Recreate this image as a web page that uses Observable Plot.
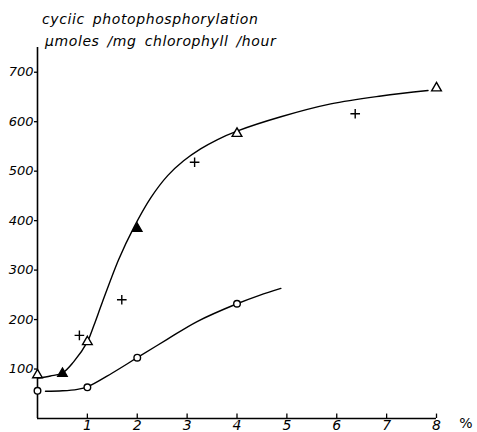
<!DOCTYPE html>
<html><head><meta charset="utf-8">
<script src="https://cdn.jsdelivr.net/npm/d3@7"></script>
<script src="https://cdn.jsdelivr.net/npm/@observablehq/plot@0.6"></script>
<style>body{margin:0;background:#fff} svg{display:block}</style>
</head><body><div id="chart"></div>
<script>
// Tick labels
const xTicks = [1, 2, 3, 4, 5, 6, 7, 8];
const yTicks = [100, 200, 300, 400, 500, 600, 700];

// Title lines
const titleLines = ["cyciic photophosphorylation", "μmoles /mg chlorophyll /hour"];
const unitLabel = "%";

// Hand-drawn curves
const upperCurveX = [0.02, 0.26, 0.5, 0.72, 1, 1.13, 1.3, 1.63, 1.93, 2.27, 2.61, 2.93, 3.27, 3.61, 4, 4.88, 5.88, 6.89, 7.83];
const upperCurveY = [82, 86, 92, 114, 155, 188, 235, 322, 386, 446, 491, 521, 545, 564, 581, 610, 636, 652, 663];
const lowerCurveX = [0.16, 0.5, 0.8, 1, 1.5, 2, 2.6, 3.2, 4, 4.45, 4.88];
const lowerCurveY = [55, 56, 59, 64, 92, 123, 160, 196, 232, 249, 263];

// Measured points
const openTriX = [0, 1, 4, 8];
const openTriY = [88, 155, 576, 668];
const filledTriX = [0.5, 2];
const filledTriY = [91, 384];
const plusX = [0.84, 1.69, 3.15, 6.37];
const plusY = [168, 240, 518, 616];
const circleX = [0, 1, 2, 4];
const circleY = [56, 63, 123, 232];

const zip = (xs, ys) => xs.map((x, i) => ({x, y: ys[i]}));

const chart = Plot.plot({
  width: 477, height: 432,
  marginLeft: 37, marginRight: 41, marginTop: 47, marginBottom: 14,
  style: {fontFamily: "DejaVu Sans", fontStyle: "italic", fontSize: "13px", background: "white", color: "black", overflow: "visible"},
  x: {domain: [0, 8], label: null},
  y: {domain: [0, 750], label: null},
  marks: [
    Plot.ruleY([0], {stroke: "black", strokeWidth: 1.6}),
    Plot.ruleX([0], {stroke: "black", strokeWidth: 1.6}),
    Plot.ruleX(xTicks, {x: d => d, y1: 0, y2: 9, stroke: "black", strokeWidth: 1.3}),
    Plot.axisX({ticks: xTicks, tickSize: 0, tickPadding: 2, fontSize: 14, fontStyle: "italic", label: null}),
    Plot.axisY({ticks: yTicks, tickSize: 3, tickPadding: 1, fontSize: 13, fontStyle: "italic", strokeWidth: 1.3, label: null}),
    Plot.line(zip(upperCurveX, upperCurveY), {x: "x", y: "y", curve: "catmull-rom", stroke: "black", strokeWidth: 1.4}),
    Plot.line(zip(lowerCurveX, lowerCurveY), {x: "x", y: "y", curve: "catmull-rom", stroke: "black", strokeWidth: 1.4}),
    Plot.dot(zip(openTriX, openTriY), {x: "x", y: "y", symbol: "triangle", r: 3.6, fill: "white", stroke: "black", strokeWidth: 1.4}),
    Plot.dot(zip(filledTriX, filledTriY), {x: "x", y: "y", symbol: "triangle", r: 3.6, fill: "black", stroke: "black", strokeWidth: 1.2}),
    Plot.dot(zip(plusX, plusY), {x: "x", y: "y", symbol: "plus", r: 3.2, stroke: "black", strokeWidth: 1.4}),
    Plot.dot(zip(circleX, circleY), {x: "x", y: "y", symbol: "circle", r: 3.3, fill: "white", stroke: "black", strokeWidth: 1.4})
  ]
});
document.getElementById("chart").appendChild(chart);
const svg = d3.select(chart);
const titlePos = [[42, 24], [45, 46]];
titleLines.forEach((t, i) => {
  svg.append("text").attr("x", titlePos[i][0]).attr("y", titlePos[i][1]).attr("text-anchor", "start")
    .attr("font-family", "DejaVu Sans").attr("font-style", "italic").attr("font-size", 14)
    .attr("fill", "black").style("letter-spacing", "0.6px").style("word-spacing", "3px").text(t);
});
svg.append("text").attr("x", 466).attr("y", 428).attr("text-anchor", "middle")
  .attr("font-family", "DejaVu Sans").attr("font-style", "normal").attr("font-size", 14)
  .attr("fill", "black").text(unitLabel);
</script>
</body></html>
